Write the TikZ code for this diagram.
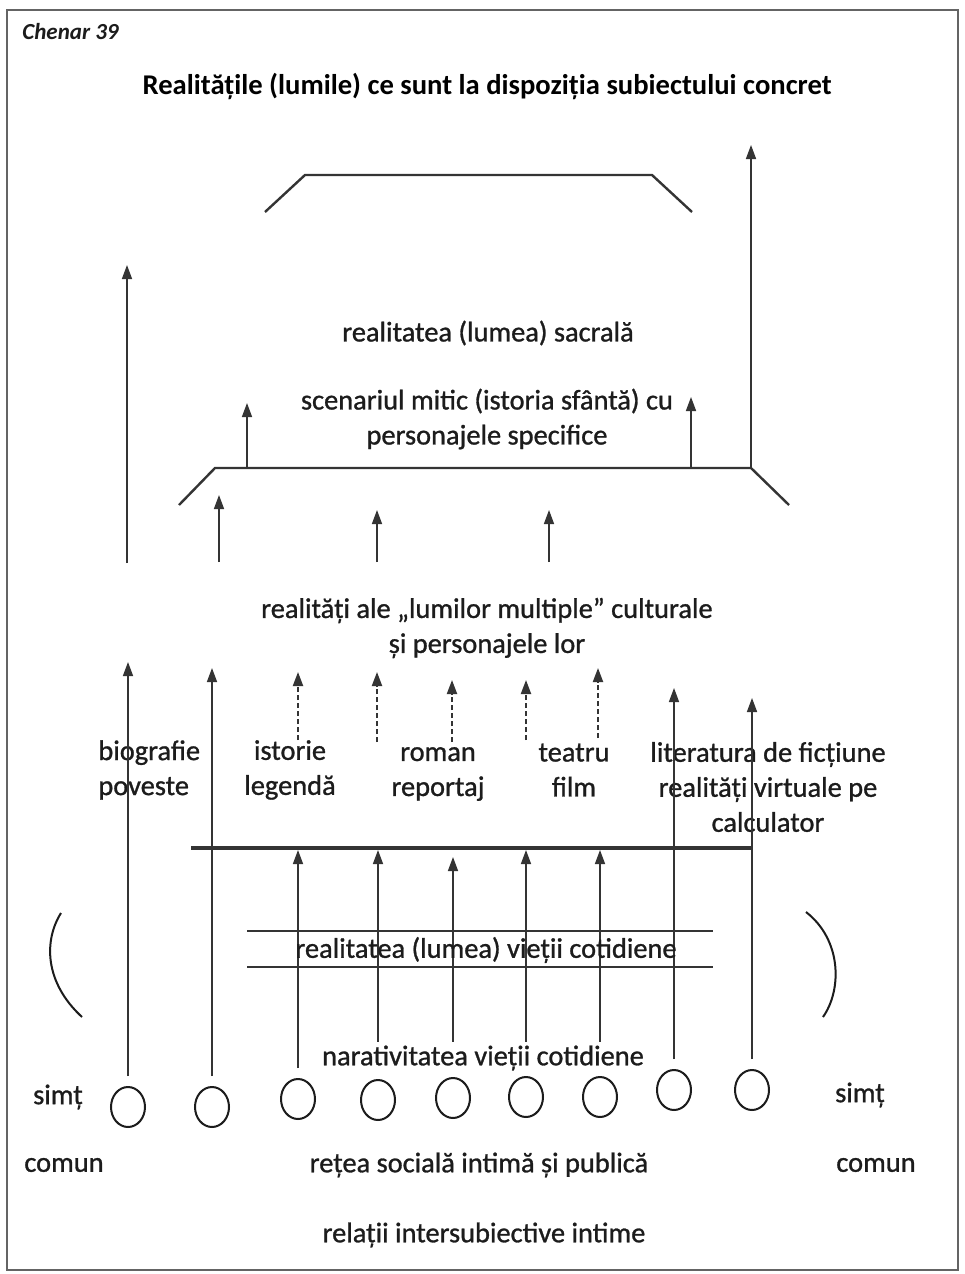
\documentclass[tikz,border=0pt]{standalone}
\usepackage{fontspec}
\setmainfont{Carlito}
\newfontfamily\lblfont{Carlito}[FakeBold=1]
\usepackage{tikz}
\usetikzlibrary{arrows.meta,positioning,shapes.geometric}
\definecolor{chink}{RGB}{28,28,28}
\definecolor{chline}{RGB}{52,52,52}
\definecolor{chframe}{RGB}{100,100,100}

\begin{document}
\begin{tikzpicture}[x=0.5pt,y=-0.5pt,
  lbl/.style={text=chink,font=\lblfont\fontsize{14.2}{17.5}\selectfont,inner sep=1pt},
  ring/.style={ellipse,draw=chink,line width=1pt,minimum width=17pt,minimum height=20pt,inner sep=0pt},
  up/.style={draw=chline,line width=0.75pt,-{Triangle[length=7pt,width=5pt]}},
  updash/.style={up,line width=1pt,dash pattern=on 2.5pt off 1.5pt},
  bar/.style={draw=chline,line width=1.2pt},
  gap/.style={shorten <=5pt}]
\fill[white] (0,0) rectangle (964,1274);
\useasboundingbox (0,0) rectangle (964,1274);
\draw[chframe,line width=1pt] (7,10) rectangle (958,1270);

\node[text=chink,font=\fontsize{11.5}{13}\selectfont\bfseries\itshape,anchor=west,inner sep=0pt] (chenar) at (22,32) {Chenar 39};
\node[text=black,font=\fontsize{14.3}{17}\selectfont\bfseries] (titlu) at (487,87) {Realitățile (lumile) ce sunt la dispoziția subiectului concret};

\coordinate (sacL) at (265,212);
\coordinate (sacTL) at (305,175);
\coordinate (sacTR) at (652,175);
\coordinate (sacR) at (692,212);
\draw[bar] (sacL) -- (sacTL) -- (sacTR) -- (sacR);

\coordinate (mitL) at (179,505);
\coordinate (mitTL) at (215,468);
\coordinate (mitTR) at (751,468);
\coordinate (mitR) at (789,505);
\coordinate (sacTip) at (751,145);
\draw[bar] (mitL) -- (mitTL) -- (mitTR) -- (mitR);
\draw[up] (mitTR) -- (sacTip);

\foreach \nm/\xx/\lo/\hi in {ua/127/563/265, ub/219/562/495, uc/377/562/510, ud/549/562/510, ue/247/468/403, uf/691/468/397}{
  \coordinate (\nm0) at (\xx,\lo);
  \coordinate (\nm1) at (\xx,\hi);
  \draw[up] (\nm0) -- (\nm1);
}
\foreach \nm/\xx/\lo/\hi in {da/298/740/672, db/377/742/672, dc/452/742/680, dd/526/740/680, de/598/738/668}{
  \coordinate (\nm0) at (\xx,\lo);
  \coordinate (\nm1) at (\xx,\hi);
  \draw[updash] (\nm0) -- (\nm1);
}

\node[lbl] (sacra) at (488,333) {realitatea (lumea) sacrală};
\node[lbl,align=center] (mitic) at (487,419) {scenariul mitic (istoria sfântă) cu\\personajele specifice};
\node[lbl,align=center] (cultural) at (487,628) {realități ale „lumilor multiple” culturale\\și personajele lor};

\node[lbl,align=left,anchor=west,inner sep=0pt] (biografie) at (98,770) {biografie\\poveste};
\node[lbl,align=center] (istorie) at (290,770) {istorie\\legendă};
\node[lbl,align=center] (roman) at (438,774) {roman\\reportaj};
\node[lbl,align=center] (teatru) at (574,770) {teatru\\film};
\node[lbl,align=center] (fictiune) at (768,787) {literatura de ficțiune\\realități virtuale pe\\calculator};

\coordinate (barL) at (191,848);
\coordinate (barR) at (752,848);
\draw[chline,line width=2.2pt] (barL) -- (barR);

\coordinate (cotA) at (247,931);
\coordinate (cotB) at (713,931);
\coordinate (cotC) at (247,967);
\coordinate (cotD) at (713,967);
\draw[chline,line width=1pt] (cotA) -- (cotB);
\draw[chline,line width=1pt] (cotC) -- (cotD);

\foreach \i/\xx/\yy/\tt in {1/128/1107/662, 2/212/1107/668, 3/298/1099/850, 4/378/1100/850, 5/453/1098/857, 6/526/1097/850, 7/600/1097/850, 8/674/1090/688, 9/752/1090/698}{
  \node[ring] (c\i) at (\xx,\yy) {};
  \coordinate (t\i) at (\xx,\tt);
  \draw[up,gap] (c\i.north) -- (t\i);
}

\node[lbl] (cotidian) at (486,950) {realitatea (lumea) vieții cotidiene};
\node[lbl,fill=white,inner sep=2pt] (narativ) at (483,1058) {narativitatea vieții cotidiene};

\draw[chink,line width=1pt] (61,913) .. controls (44,940) and (44,982) .. (82,1017);
\draw[chink,line width=1pt] (806,912) .. controls (842,940) and (842,990) .. (823,1017);

\node[lbl] (simtL) at (58,1097) {simț};
\node[lbl] (simtR) at (860,1095) {simț};
\node[lbl] (comunL) at (64,1165) {comun};
\node[lbl] (comunR) at (876,1165) {comun};
\node[lbl] (retea) at (479,1165) {rețea socială intimă și publică};
\node[lbl] (relatii) at (484,1235) {relații intersubiective intime};
\end{tikzpicture}
\end{document}
